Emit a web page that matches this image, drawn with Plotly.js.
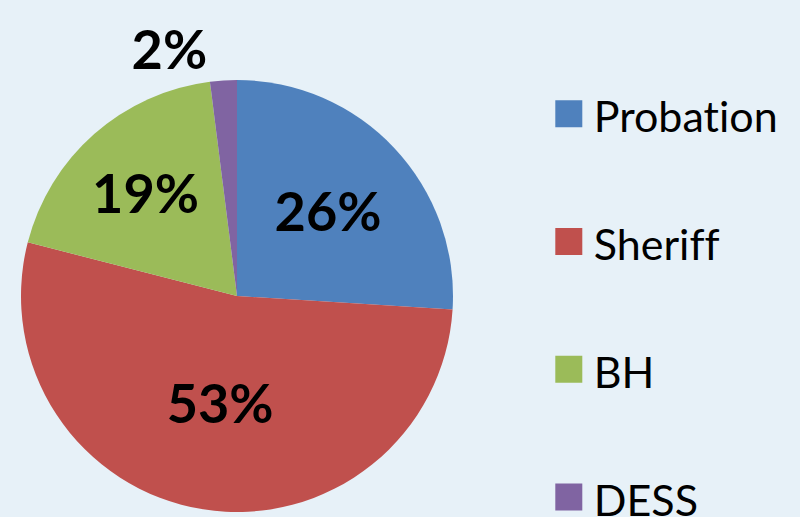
<!DOCTYPE html>
<html>
<head>
<meta charset="utf-8">
<script src="https://cdn.plot.ly/plotly-3.0.1.min.js"></script>
<style>
html,body{margin:0;padding:0;background:#E7F1F8;overflow:hidden;width:800px;height:517px;}
#chart text{font-variant-ligatures:none;font-feature-settings:"liga" 0;}
</style>
</head>
<body>
<div id="chart" style="width:800px;height:580px;"></div>
<script>
const categories = ["Probation", "Sheriff", "BH", "DESS"];
const values = [26, 53, 19, 2];
const colors = ["#4F81BD", "#C0504D", "#9BBB59", "#8064A2"];
const textPositions = ["inside", "inside", "inside", "outside"];

const legendLabels = categories.map((c, i) => {
  const t = "<span style='font-size:43px'>" + c + "</span>";
  return i < categories.length - 1 ? t + "<br> " : t;
});

const trace = {
  type: "pie",
  labels: legendLabels,
  values: values,
  sort: false,
  direction: "clockwise",
  rotation: 0,
  marker: {colors: colors, line: {width: 0}},
  textinfo: "percent",
  texttemplate: "<b>%{percent:.0%}</b>",
  textposition: textPositions,
  insidetextorientation: "horizontal",
  textfont: {family: "Lato, 'Open Sans', sans-serif", size: 54, color: "#000000"},
  outsidetextfont: {family: "Lato, 'Open Sans', sans-serif", size: 54, color: "#000000"},
  insidetextfont: {family: "Lato, 'Open Sans', sans-serif", size: 54, color: "#000000"},
  domain: {x: [0.02625, 0.56625], y: [0.1172, 0.8621]},
  hoverinfo: "label+percent"
};

const layout = {
  width: 800, height: 580,
  margin: {l: 0, r: 0, t: 0, b: 0},
  paper_bgcolor: "#E7F1F8",
  plot_bgcolor: "#E7F1F8",
  showlegend: true,
  legend: {
    x: 0.686, xanchor: "left",
    y: 0.869, yanchor: "top",
    valign: "top",
    itemwidth: 35,
    bgcolor: "rgba(0,0,0,0)",
    font: {family: "Lato, 'Open Sans', sans-serif", size: 48, color: "#000000"},
    itemclick: false, itemdoubleclick: false
  }
};

Plotly.newPlot("chart", [trace], layout, {displayModeBar: false, staticPlot: true}).then(function () {
  document.querySelectorAll("#chart .legendpie").forEach(function (p) {
    p.setAttribute("transform", "translate(20,0) scale(2.25)");
  });
});
</script>
</body>
</html>
